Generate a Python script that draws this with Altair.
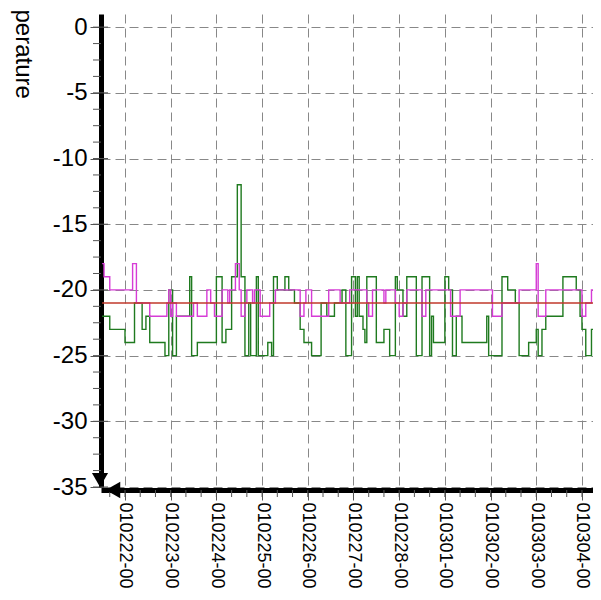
import altair as alt
import pandas as pd

# hours after 2001-02-21 11:00
START = pd.Timestamp("2001-02-21 11:00")

green_h = [1, 5, 13, 18, 22, 24, 26, 34, 36, 38, 40, 47, 48, 51, 61, 64, 66, 69, 72, 74,
           76, 78, 79, 82, 83, 88, 90, 91, 93, 97, 99, 102, 105, 107, 111, 116, 119, 123, 127, 129,
           132, 134, 135, 136, 138, 139, 140, 145, 149, 152, 155, 156, 159, 161, 166, 169, 173, 174, 175, 181,
           183, 185, 187, 190, 203, 204, 211, 214, 218, 220, 225, 229, 230, 232, 234, 243, 250, 252, 253, 255,
           258, 261, 262]
green_v = [-22, -23, -24, -21, -23, -22, -24, -25, -20, -25, -22, -19, -25, -24, -19, -24, -23, -19, -12, -19,
           -25, -21, -25, -19, -25, -24, -25, -19, -20, -19, -20, -21, -23, -24, -25, -21, -22, -21, -20, -25,
           -19, -22, -19, -22, -23, -24, -19, -24, -23, -25, -19, -20, -22, -19, -25, -19, -25, -22, -24, -19,
           -20, -25, -22, -24, -22, -25, -19, -20, -21, -25, -24, -23, -25, -23, -22, -19, -20, -22, -23, -25,
           -23, -19, -19]

mag_h = [1, 2, 5, 17, 19, 26, 35, 36, 37, 38, 40, 49, 51, 56, 58, 60, 64, 67, 68, 71,
         73, 74, 76, 77, 80, 81, 84, 89, 92, 105, 107, 108, 111, 120, 126, 131, 140, 141, 143, 149,
         150, 155, 157, 159, 161, 169, 171, 184, 189, 206, 211, 220, 229, 230, 234, 253, 255, 258, 262]
mag_v = [-18, -19, -20, -18, -21, -22, -21, -20, -22, -21, -22, -21, -22, -20, -21, -22, -20, -21, -20, -18,
         -20, -22, -21, -20, -21, -20, -22, -21, -20, -22, -21, -20, -22, -20, -21, -20, -21, -22, -20, -21,
         -20, -21, -22, -21, -20, -22, -20, -22, -20, -22, -21, -20, -18, -22, -20, -22, -21, -20, -20]

red_h = [1, 262]
red_v = [-21, -21]

y_major = [-35, -30, -25, -20, -15, -10, -5, 0]
y_minor = [-35 + 1.25 * i for i in range(29)]
x_minor_h = [5 + 8 * i for i in range(33)]


def stamp(h):
    return (START + pd.Timedelta(hours=h)).strftime("%Y-%m-%dT%H:%M:%S")


def frame(hours, vals, name):
    return pd.DataFrame({"time": [stamp(h) for h in hours], "value": vals, "series": name})


data = pd.concat([frame(green_h, green_v, "a"), frame(mag_h, mag_v, "b"), frame(red_h, red_v, "c")],
                 ignore_index=True)

xs = alt.Scale(domain=["2001-02-21T11:24:00", "2001-03-04T05:48:00"], nice=False)
ys = alt.Scale(domain=[-35, 1], nice=False, zero=False)

major_x = alt.Axis(format="%y%m%d-%H", tickCount={"interval": "day", "step": 1},
                   labelAngle=90, labelAlign="left", labelBaseline="middle", labelFontSize=18,
                   labelFont="Liberation Sans", labelColor="black", labelPadding=2, labelFlush=False,
                   labelOverlap=False,
                   grid=True, gridDash=[9, 5], gridColor="#888888", gridWidth=1,
                   domain=True, domainColor="black", domainWidth=5,
                   ticks=True, tickSize=10, tickColor="#555555", tickWidth=1, offset=3, title=None)
major_y = alt.Axis(values=y_major, labelExpr="datum.value + ''",
                   labelFontSize=24, labelFont="Liberation Sans", labelColor="black", labelPadding=3,
                   labelFlush=False, labelOverlap=False,
                   grid=True, gridDash=[9, 5], gridColor="#888888", gridWidth=1,
                   domain=True, domainColor="black", domainWidth=5,
                   ticks=True, tickSize=11, tickColor="#555555", tickWidth=1,
                   title="Temperature", titleAngle=90, titleFontSize=24, titleFont="Liberation Sans",
                   titleFontWeight="normal", titleColor="black", titleX=-79, titleY=17,
                   titleAlign="center", titleBaseline="middle")

lines = alt.Chart(data).mark_line(interpolate="step-after", strokeWidth=1.4, clip=True).encode(
    x=alt.X("time:T", scale=xs, axis=major_x),
    y=alt.Y("value:Q", scale=ys, axis=major_y),
    color=alt.Color("series:N", scale=alt.Scale(domain=["a", "b", "c"],
                                                range=["#1f7a1f", "#d63cd6", "#c0392b"]), legend=None),
    detail="series:N",
)

xminor_df = pd.DataFrame({"time": [stamp(h) for h in x_minor_h]})
xminor = alt.Chart(xminor_df).mark_rule(color="#555555", strokeWidth=1, clip=False).encode(
    x=alt.X("time:T", scale=xs), y=alt.value(476), y2=alt.value(483))

yminor_df = pd.DataFrame({"v": y_minor})
yminor = alt.Chart(yminor_df).mark_rule(color="#555555", strokeWidth=1).encode(
    y=alt.Y("v:Q", scale=ys), x=alt.value(-8), x2=alt.value(0))

ymajor_df = pd.DataFrame({"v": y_major})
ymajor_in = alt.Chart(ymajor_df).mark_rule(color="#555555", strokeWidth=1).encode(
    y=alt.Y("v:Q", scale=ys), x=alt.value(0), x2=alt.value(7))

one = pd.DataFrame({"k": [0]})
arrow_down = alt.Chart(one).mark_point(shape="triangle-down", filled=True, color="black",
                                        size=260, opacity=1).encode(
    x=alt.value(-1), y=alt.value(466))
arrow_left = alt.Chart(one).mark_point(shape="triangle-left", filled=True, color="black",
                                        size=280, opacity=1).encode(
    x=alt.value(12), y=alt.value(476))

chart = alt.layer(lines, xminor, yminor, ymajor_in, arrow_down, arrow_left).properties(
    width=492, height=473,
    autosize=alt.AutoSizeParams(type="none"),
    padding={"left": 93, "top": 6, "right": 0, "bottom": 105},
).configure_view(stroke=None)

chart.save("out.html", embed_options={"renderer": "svg", "actions": False})
